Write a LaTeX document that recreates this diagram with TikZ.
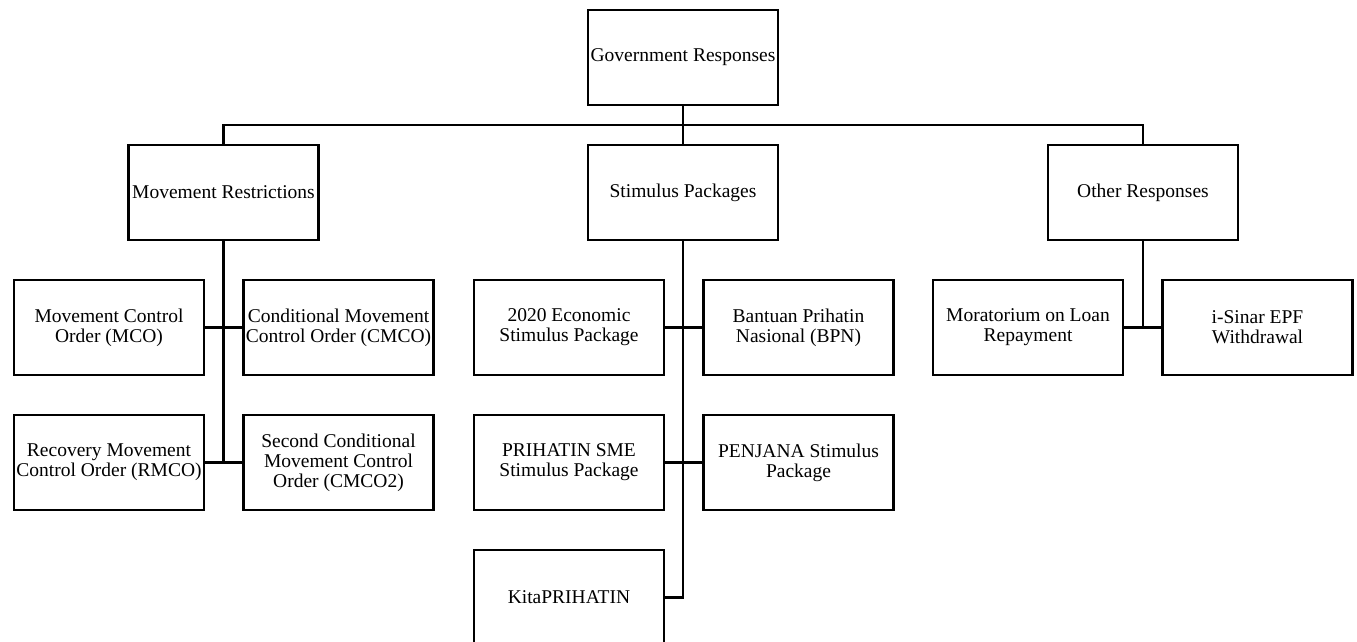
\documentclass[tikz,border=0pt]{standalone}
\usepackage{fontspec}
\setmainfont{Liberation Serif}
\usetikzlibrary{positioning}
\tikzset{
  basic/.style   = {draw, rectangle, line width=2.5pt, align=center,
                    minimum width=190pt, minimum height=95pt, inner sep=2pt,
                    font=\fontsize{19.5}{20}\selectfont},
  topbox/.style  = {basic},
  groupbox/.style = {basic},
  itembox/.style = {basic}
}

\begin{document}
\begin{tikzpicture}[line width=2.5pt]
\useasboundingbox (0,0) rectangle (1357pt,-642pt);

% root
\node[topbox] (gov) at (683pt,-57.5pt) {Government Responses};

% The first level
\node[groupbox, below=37.5pt of gov] (sp) {Stimulus Packages};
\node[groupbox, left=267pt of sp] (mr) {Movement Restrictions};
\node[groupbox, right=267.5pt of sp] (or) {Other Responses};

% The second level, relatively positioned nodes
\begin{scope}[every node/.style={itembox}]
\node [below=37.5pt of mr, xshift=-114.5pt] (mco) {Movement Control\\Order (MCO)};
\node [right=37pt of mco] (cmco) {Conditional Movement\\Control Order (CMCO)};
\node [below=37.5pt of mco] (rmco) {Recovery Movement\\Control Order (RMCO)};
\node [below=37.5pt of cmco] (cmco2) {Second Conditional\\Movement Control\\Order (CMCO2)};

\node [below=37.5pt of sp, xshift=-114pt] (eco) {2020 Economic\\Stimulus Package};
\node [right=37pt of eco] (bpn) {Bantuan Prihatin\\Nasional (BPN)};
\node [below=37.5pt of eco] (sme) {PRIHATIN SME\\Stimulus Package};
\node [below=37.5pt of bpn] (penjana) {PENJANA Stimulus\\Package};
\node [below=37.5pt of sme] (kita) {KitaPRIHATIN};

\node [below=37.5pt of or, xshift=-115pt] (mor) {Moratorium on Loan\\Repayment};
\node [right=37pt of mor] (isinar) {i-Sinar EPF\\Withdrawal};
\end{scope}

\draw (gov.south) -- (sp.north);
\draw (mr.north) -- ++(0,18.75pt) -| (or.north);

\draw (mr.south) |- (rmco.east);
\draw (mco.east) -- (cmco.west);
\draw (rmco.east) -- (cmco2.west);

\draw (sp.south) |- (kita.east);
\draw (eco.east) -- (bpn.west);
\draw (sme.east) -- (penjana.west);

\draw (or.south) |- (mor.east);
\draw (mor.east) -- (isinar.west);
\end{tikzpicture}
\end{document}
